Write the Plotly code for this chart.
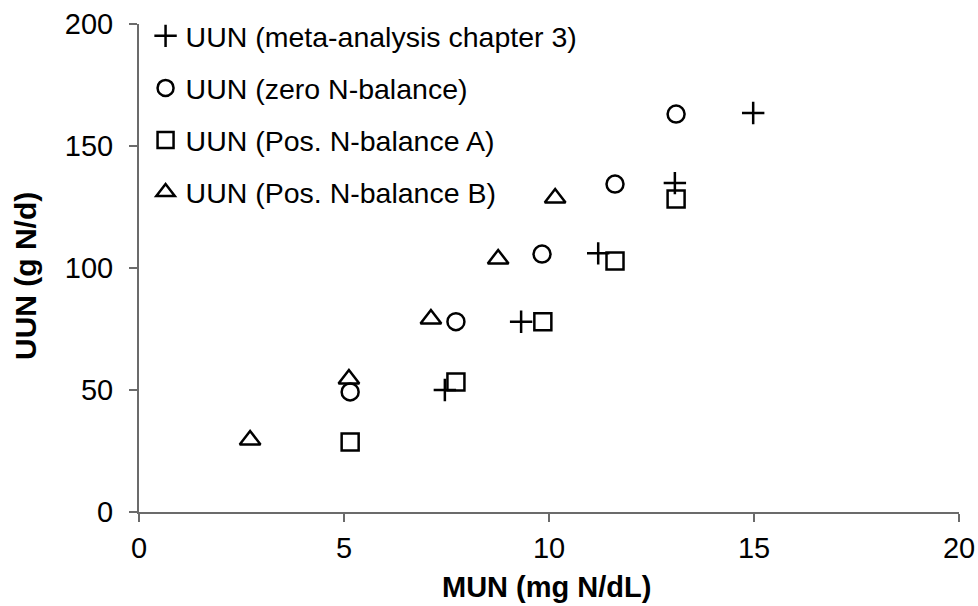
import plotly.graph_objects as go

# MUN (mg N/dL) and UUN (g N/d) for each estimation approach
mun_meta = [7.46, 9.32, 11.2, 13.07, 14.98]
uun_meta = [50.0, 78.0, 106.0, 134.8, 163.5]

mun_zero = [5.15, 7.73, 9.83, 11.61, 13.1]
uun_zero = [49.2, 78.0, 105.7, 134.4, 163.1]

mun_pos_a = [5.15, 7.73, 9.85, 11.61, 13.1]
uun_pos_a = [28.7, 53.3, 78.0, 102.9, 128.3]

mun_pos_b = [2.71, 5.12, 7.12, 8.76, 10.15]
uun_pos_b = [29.5, 54.5, 79.1, 103.7, 128.7]

series_names = [
    "UUN (meta-analysis chapter 3)",
    "UUN (zero N-balance)",
    "UUN (Pos. N-balance A)",
    "UUN (Pos. N-balance B)",
]

x_ticks = [0, 5, 10, 15, 20]
y_ticks = [0, 50, 100, 150, 200]

x_title = "MUN (mg N/dL)"
y_title = "UUN (g N/d)"

FONT = "Liberation Sans, Arial, sans-serif"
AXIS_GREY = "#6b6b6b"

fig = go.Figure()

series = [
    (mun_meta, uun_meta, "cross-thin-open", 16),
    (mun_zero, uun_zero, "circle-open", 17),
    (mun_pos_a, uun_pos_a, "square-open", 17),
    (mun_pos_b, uun_pos_b, "triangle-up-open", 18),
]

for i, (xs, ys, sym, size) in enumerate(series):
    fig.add_trace(
        go.Scatter(
            x=xs,
            y=ys,
            mode="markers",
            name=series_names[i],
            legendgroup=f"g{i}",
            marker=dict(
                symbol=sym,
                size=size,
                color="black",
                line=dict(color="black", width=2.5),
            ),
        )
    )

axis_common = dict(
    showgrid=False,
    zeroline=False,
    showline=True,
    linecolor=AXIS_GREY,
    linewidth=2,
    ticks="outside",
    ticklen=8,
    tickwidth=1.5,
    tickcolor=AXIS_GREY,
    automargin=False,
    tickfont=dict(family=FONT, size=29, color="black"),
)

fig.update_layout(
    width=978,
    height=606,
    margin=dict(l=139, r=19, t=24, b=94, autoexpand=False),
    paper_bgcolor="white",
    plot_bgcolor="white",
    font=dict(family=FONT, size=28, color="black"),
    showlegend=True,
    legend=dict(
        x=0.008,
        y=1.027,
        xanchor="left",
        yanchor="top",
        bgcolor="rgba(0,0,0,0)",
        font=dict(family=FONT, size=28.5, color="black"),
        traceorder="grouped",
        tracegroupgap=12,
        itemsizing="trace",
    ),
    xaxis=dict(
        range=[0, 20],
        tickvals=x_ticks,
        ticktext=[str(v) for v in x_ticks],
        ticklabelstandoff=1,
        **axis_common,
    ),
    yaxis=dict(
        range=[0, 200],
        tickvals=y_ticks,
        ticktext=[str(v) for v in y_ticks],
        ticklabelstandoff=10,
        **axis_common,
    ),
    annotations=[
        dict(
            text=f"<b>{x_title}</b>",
            xref="paper",
            yref="paper",
            x=0.497,
            y=-0.154,
            xanchor="center",
            yanchor="middle",
            showarrow=False,
            font=dict(family=FONT, size=29, color="black"),
        ),
        dict(
            text=f"<b>{y_title}</b>",
            xref="paper",
            yref="paper",
            x=-0.139,
            y=0.4836,
            xanchor="center",
            yanchor="middle",
            textangle=-90,
            showarrow=False,
            font=dict(family=FONT, size=30, color="black"),
        ),
    ],
)

fig.write_html("out.html")
